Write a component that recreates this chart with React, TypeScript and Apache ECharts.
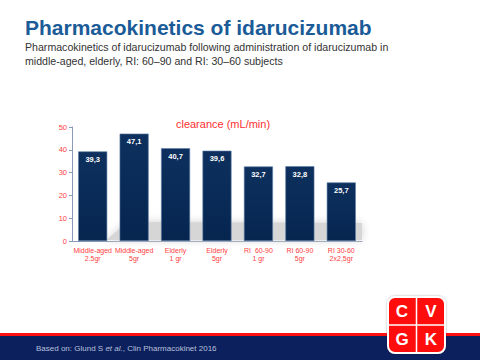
import React, { useEffect, useRef } from "react";
import * as echarts from "echarts";

const categories = [
  "Middle-aged\n2.5gr",
  "Middle-aged\n5gr",
  "Elderly\n1 gr",
  "Elderly\n5gr",
  "RI  60-90\n1 gr",
  "RI 60-90\n5gr",
  "RI 30-60\n2x2,5gr",
];
const clearance = [39.3, 47.1, 40.7, 39.6, 32.7, 32.8, 25.7];
const yTicks = { min: 0, max: 50, interval: 10 };

export default function App() {
  const ref = useRef<HTMLDivElement>(null);
  useEffect(() => {
    const chart = echarts.init(ref.current!, null, { renderer: "svg" });
    const font = "Liberation Sans, Arial, sans-serif";
    chart.setOption({
      animation: false,
      backgroundColor: "#ffffff",
      title: {
        text: "clearance (mL/min)",
        left: 218,
        top: 113,
        textAlign: "center",
        textStyle: { color: "#ff3030", fontSize: 11, fontWeight: "normal", fontFamily: font },
      },
      grid: { left: 72, right: 118, top: 127, bottom: 119 },
      xAxis: {
        type: "category",
        data: categories,
        axisLine: { lineStyle: { color: "#8a9ab8", width: 1 } },
        axisTick: { show: false },
        axisLabel: {
          color: "#ff4040",
          fontSize: 7,
          fontFamily: font,
          lineHeight: 8,
          margin: 5,
          interval: 0,
        },
      },
      yAxis: {
        type: "value",
        min: yTicks.min,
        max: yTicks.max,
        interval: yTicks.interval,
        splitLine: { show: false },
        axisLine: { show: true, lineStyle: { color: "#8a9ab8", width: 1 } },
        axisTick: { show: true, length: 3, lineStyle: { color: "#8a9ab8" } },
        axisLabel: { color: "#ff4040", fontSize: 7.5, fontFamily: font, margin: 5 },
      },
      series: [
        {
          type: "bar",
          data: clearance,
          barCategoryGap: "30%",
          z: 3,
          itemStyle: {
            color: new echarts.graphic.LinearGradient(0, 0, 0, 1, [
              { offset: 0, color: "#0d305e" },
              { offset: 1, color: "#062650" },
            ]),
            borderColor: "#5a7ca6",
            borderWidth: 0.6,
          },
          label: {
            show: true,
            position: "insideTop",
            distance: 4,
            color: "#ffffff",
            fontSize: 7.5,
            fontWeight: "bold",
            fontFamily: font,
            formatter: (p: any) => String(p.value.toFixed(1)).replace(".", ","),
          },
        },
      ],
      graphic: [
        {
          type: "polygon",
          z: 1,
          shape: {
            points: [
              [106, 240],
              [128, 222],
              [362, 223],
              [362, 240],
            ],
          },
          style: { fill: "#d6d6d6", shadowBlur: 8, shadowColor: "#d0d0d0" },
        },
        {
          type: "text",
          left: 25,
          top: 17,
          style: {
            text: "Pharmacokinetics of idarucizumab",
            fill: "#1a5b98",
            font: "bold 21px Liberation Sans, Arial, sans-serif",
          },
        },
        {
          type: "text",
          left: 25,
          top: 40,
          style: {
            text:
              "Pharmacokinetics of idarucizumab following administration of idarucizumab in\nmiddle-aged, elderly, RI: 60\u201390 and RI: 30\u201360 subjects",
            fill: "#333333",
            font: "10.6px Liberation Sans, Arial, sans-serif",
            lineHeight: 14,
          },
        },
        {
          type: "rect",
          shape: { x: 0, y: 333, width: 480, height: 3 },
          style: { fill: "#ff1010" },
        },
        {
          type: "rect",
          shape: { x: 0, y: 336, width: 480, height: 24 },
          style: { fill: "#0c205e" },
        },
        {
          type: "text",
          left: 36,
          top: 344,
          style: {
            rich: {
              n: { fill: "#b8c0dc", font: "8px Liberation Sans, Arial, sans-serif" },
              i: { fill: "#b8c0dc", font: "italic 8px Liberation Sans, Arial, sans-serif" },
            },
            text: "{n|Based on: Glund S }{i|et al.}{n|, Clin Pharmacokinet 2016}",
          },
        },
        {
          type: "group",
          z: 10,
          children: [
            {
              type: "rect",
              shape: { x: 388, y: 297, width: 57, height: 56, r: 7 },
              style: { fill: "#ff0a0a", stroke: "#ffffff", lineWidth: 2, shadowBlur: 2, shadowColor: "rgba(0,0,0,0.3)" },
            },
            {
              type: "line",
              shape: { x1: 416.5, y1: 298, x2: 416.5, y2: 352 },
              style: { stroke: "#ffffff", lineWidth: 1.5 },
            },
            {
              type: "line",
              shape: { x1: 389, y1: 325, x2: 444, y2: 325 },
              style: { stroke: "#ffffff", lineWidth: 1.5 },
            },
            ...[
              ["C", 402, 311],
              ["V", 431, 311],
              ["G", 402, 339],
              ["K", 431, 339],
            ].map(([t, x, y]) => ({
              type: "text",
              x: x as number,
              y: y as number,
              style: {
                text: t as string,
                fill: "#ffffff",
                font: "bold 17px Liberation Sans, Arial, sans-serif",
                align: "center",
                verticalAlign: "middle",
              },
            })),
          ],
        },
      ],
    });
    return () => chart.dispose();
  }, []);
  return <div ref={ref} style={{ width: 480, height: 360, position: "absolute", left: 0, top: 0 }} />;
}
